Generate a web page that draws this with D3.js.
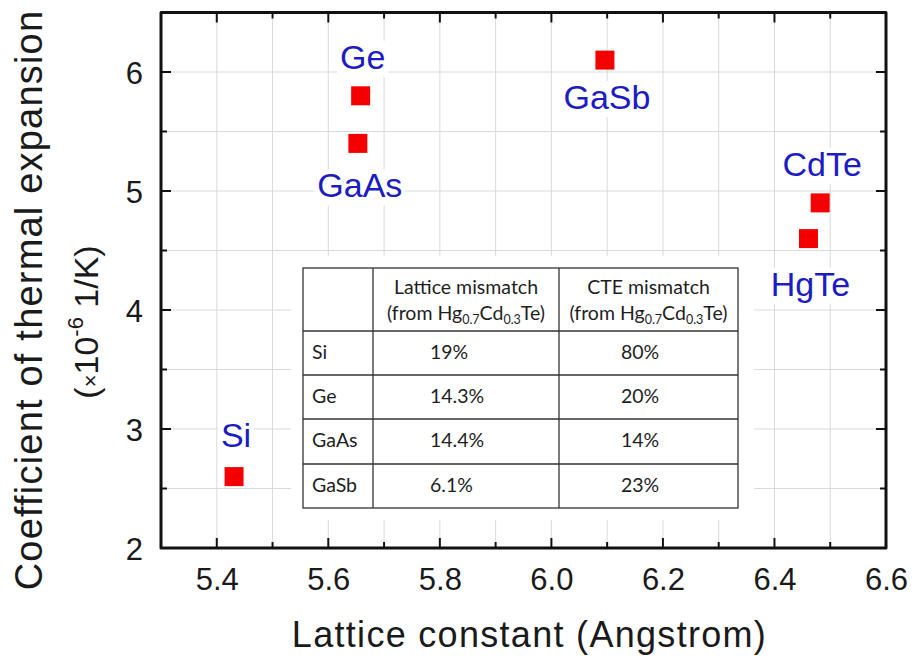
<!DOCTYPE html>
<html>
<head>
<meta charset="utf-8">
<script src="https://cdn.jsdelivr.net/npm/d3@7"></script>
<style>
  html, body { margin: 0; padding: 0; background: #fff; }
  svg { display: block; }
  text { font-family: "Liberation Sans", Arial, sans-serif; }
</style>
</head>
<body>
<svg id="chart" width="915" height="659"></svg>
<script>
// Substrate materials: lattice constant (Å) and thermal expansion coefficient (1e-6 /K)
const materials    = ["Si", "Ge", "GaAs", "GaSb", "CdTe", "HgTe"];
const latticeConst = [5.431, 5.658, 5.653, 6.096, 6.482, 6.461];
const cteValues    = [2.6, 5.8, 5.4, 6.1, 4.9, 4.6];
const labelSide    = ["above", "above", "below", "below", "above", "below"];

// Axis ticks
const xTickLabels = [5.4, 5.6, 5.8, 6.0, 6.2, 6.4, 6.6];
const xMinorTicks = [5.3, 5.4, 5.5, 5.6, 5.7, 5.8, 5.9, 6.0, 6.1, 6.2, 6.3, 6.4, 6.5, 6.6];
const yTickLabels = [2, 3, 4, 5, 6];
const yMinorTicks = [2, 2.5, 3, 3.5, 4, 4.5, 5, 5.5, 6, 6.5];

// Inset table: mismatch relative to Hg0.7Cd0.3Te
const tableRows        = ["Si", "Ge", "GaAs", "GaSb"];
const latticeMismatch  = ["19%", "14.3%", "14.4%", "6.1%"];
const cteMismatch      = ["80%", "20%", "14%", "23%"];
const tableHeaders     = ["Lattice mismatch", "CTE mismatch"];

const svg = d3.select("#chart");
const margin = { left: 161, right: 915 - 886, top: 12.5, bottom: 659 - 548 };
const W = 915, H = 659;

const x = d3.scaleLinear().domain([5.3, 6.6]).range([margin.left, W - margin.right]);
const y = d3.scaleLinear().domain([2, 6.5]).range([H - margin.bottom, margin.top]);

// grid
const grid = svg.append("g").attr("stroke", "#dadada").attr("stroke-width", 1);
grid.selectAll("line.v").data(xMinorTicks.slice(1, -1)).join("line")
  .attr("x1", d => x(d)).attr("x2", d => x(d))
  .attr("y1", y(6.5)).attr("y2", y(2));
grid.selectAll("line.h").data(yMinorTicks.slice(1, -1)).join("line")
  .attr("y1", d => y(d)).attr("y2", d => y(d))
  .attr("x1", x(5.3)).attr("x2", x(6.6));

// axes with inward ticks
const isMajorX = d => xTickLabels.some(t => Math.abs(t - d) < 1e-6);
const isMajorY = d => yTickLabels.some(t => Math.abs(t - d) < 1e-6);

function tickLines(g, data, orient) {
  g.selectAll("line").data(data).join("line")
    .attr("stroke", "#111").attr("stroke-width", 2)
    .each(function(d) {
      const s = d3.select(this);
      if (orient === "bottom" || orient === "top") {
        const len = isMajorX(d) ? 10 : 6;
        const y0 = orient === "bottom" ? y(2) : y(6.5);
        const dir = orient === "bottom" ? -1 : 1;
        s.attr("x1", x(d)).attr("x2", x(d)).attr("y1", y0).attr("y2", y0 + dir * len);
      } else {
        const len = isMajorY(d) ? 10 : 6;
        const x0 = orient === "left" ? x(5.3) : x(6.6);
        const dir = orient === "left" ? 1 : -1;
        s.attr("y1", y(d)).attr("y2", y(d)).attr("x1", x0).attr("x2", x0 + dir * len);
      }
    });
}

// table background (hides grid behind the inset)
svg.append("rect").attr("x", 291).attr("y", 256).attr("width", 463).attr("height", 264).attr("fill", "#fff");

tickLines(svg.append("g"), xMinorTicks.slice(1, -1), "bottom");
tickLines(svg.append("g"), xMinorTicks.slice(1, -1), "top");
tickLines(svg.append("g"), yMinorTicks.slice(1, -1), "left");
tickLines(svg.append("g"), yMinorTicks.slice(1, -1), "right");

svg.append("rect")
  .attr("x", x(5.3)).attr("y", y(6.5))
  .attr("width", x(6.6) - x(5.3)).attr("height", y(2) - y(6.5))
  .attr("fill", "none").attr("stroke", "#111").attr("stroke-width", 3)
  .attr("stroke-linejoin", "round");

// tick labels via d3 axis generators (domain and ticks hidden; labels only)
const xAxis = d3.axisBottom(x).tickValues(xTickLabels).tickFormat(d3.format(".1f")).tickSize(0).tickPadding(0);
const gx = svg.append("g").attr("transform", `translate(0,${y(2)})`).call(xAxis);
gx.select(".domain").remove();
gx.selectAll("text").attr("font-size", 31).attr("fill", "#1a1a1a")
  .attr("font-family", "Liberation Sans, Arial, sans-serif")
  .attr("dy", null).attr("y", 42);

const yAxis = d3.axisLeft(y).tickValues(yTickLabels).tickFormat(d3.format("d")).tickSize(0).tickPadding(0);
const gy = svg.append("g").attr("transform", `translate(${x(5.3) - 18},0)`).call(yAxis);
gy.select(".domain").remove();
gy.selectAll("text").attr("font-size", 31).attr("fill", "#1a1a1a")
  .attr("font-family", "Liberation Sans, Arial, sans-serif")
  .attr("dy", "0.36em").attr("x", 0);

// axis titles
svg.append("text")
  .attr("x", (x(5.3) + x(6.6)) / 2 + 6).attr("y", 647)
  .attr("text-anchor", "middle").attr("font-size", 36).attr("letter-spacing", 1.3)
  .attr("fill", "#1a1a1a")
  .text("Lattice constant (Angstrom)");

const yt = svg.append("g").attr("transform", "translate(0,300) rotate(-90)");
yt.append("text").attr("x", 0).attr("y", 42)
  .attr("text-anchor", "middle").attr("font-size", 38).attr("letter-spacing", 1.2)
  .attr("fill", "#1a1a1a")
  .text("Coefficient of thermal expansion");
const yt2 = yt.append("text").attr("x", -22).attr("y", 98)
  .attr("text-anchor", "middle").attr("font-size", 34).attr("fill", "#1a1a1a");
yt2.append("tspan").text("(");
yt2.append("tspan").attr("font-size", 22).text("×");
yt2.append("tspan").text("10");
yt2.append("tspan").attr("font-size", 22).attr("dy", -15).text("-6");
yt2.append("tspan").attr("dy", 15).text(" 1/K)");

// material labels with white backing boxes
const labelGap = { above: -27, below: 54 };
const labelNudge = { Si: -3, GaSb: -5, HgTe: 3.5 };
const pts = materials.map((m, i) => ({ name: m, lx: latticeConst[i], cte: cteValues[i], side: labelSide[i] }));
const labelG = svg.append("g");
pts.forEach(p => {
  const g = labelG.append("g");
  const t = g.append("text")
    .attr("x", x(p.lx) + 2)
    .attr("y", y(p.cte) + labelGap[p.side] + (labelNudge[p.name] || 0))
    .attr("text-anchor", "middle").attr("font-size", 34)
    .attr("fill", "#1c1cc4")
    .text(p.name);
  const bb = t.node().getBBox();
  g.insert("rect", "text")
    .attr("x", bb.x - 3).attr("y", bb.y + 3)
    .attr("width", bb.width + 6).attr("height", bb.height - 2)
    .attr("fill", "#fff");
});

// markers
const ms = 19;
svg.append("g").selectAll("rect").data(pts).join("rect")
  .attr("x", d => x(d.lx) - ms / 2).attr("y", d => y(d.cte) - ms / 2)
  .attr("width", ms).attr("height", ms)
  .attr("fill", "#f50000");

// inset table
const colX = [303, 373, 559, 738];
const rowY = [268, 331, 375, 419, 464, 508];
const tFont = "Lato, 'Open Sans', sans-serif";
const tg = svg.append("g").attr("fill", "#1e1e1e");
tg.append("rect").attr("x", colX[0]).attr("y", rowY[0])
  .attr("width", colX[3] - colX[0]).attr("height", rowY[5] - rowY[0])
  .attr("fill", "#fff").attr("stroke", "#333").attr("stroke-width", 1.3);
colX.slice(1, 3).forEach(cx => tg.append("line").attr("x1", cx).attr("x2", cx)
  .attr("y1", rowY[0]).attr("y2", rowY[5]).attr("stroke", "#333").attr("stroke-width", 1.3));
rowY.slice(1, 5).forEach(ry => tg.append("line").attr("y1", ry).attr("y2", ry)
  .attr("x1", colX[0]).attr("x2", colX[3]).attr("stroke", "#333").attr("stroke-width", 1.3));

const cellText = (xp, yp, size) => tg.append("text").attr("x", xp).attr("y", yp)
  .attr("font-size", size).style("font-family", tFont);

tableHeaders.forEach((h, i) => {
  const cx = (colX[i + 1] + colX[i + 2]) / 2;
  cellText(cx, 294, 19.5).attr("text-anchor", "middle").text(h);
  const t2 = cellText(cx, 320, 19.5).attr("text-anchor", "middle");
  t2.append("tspan").text("(from Hg");
  t2.append("tspan").attr("font-size", 12.5).attr("dy", 4).text("0.7");
  t2.append("tspan").attr("dy", -4).text("Cd");
  t2.append("tspan").attr("font-size", 12.5).attr("dy", 4).text("0.3");
  t2.append("tspan").attr("dy", -4).text("Te)");
});

tableRows.forEach((r, i) => {
  const by = rowY[i + 1] + 28;
  cellText(312, by, 19.5).text(r);
  cellText(430, by, 19.5).text(latticeMismatch[i]);
  cellText(621, by, 19.5).text(cteMismatch[i]);
});
</script>
</body>
</html>
